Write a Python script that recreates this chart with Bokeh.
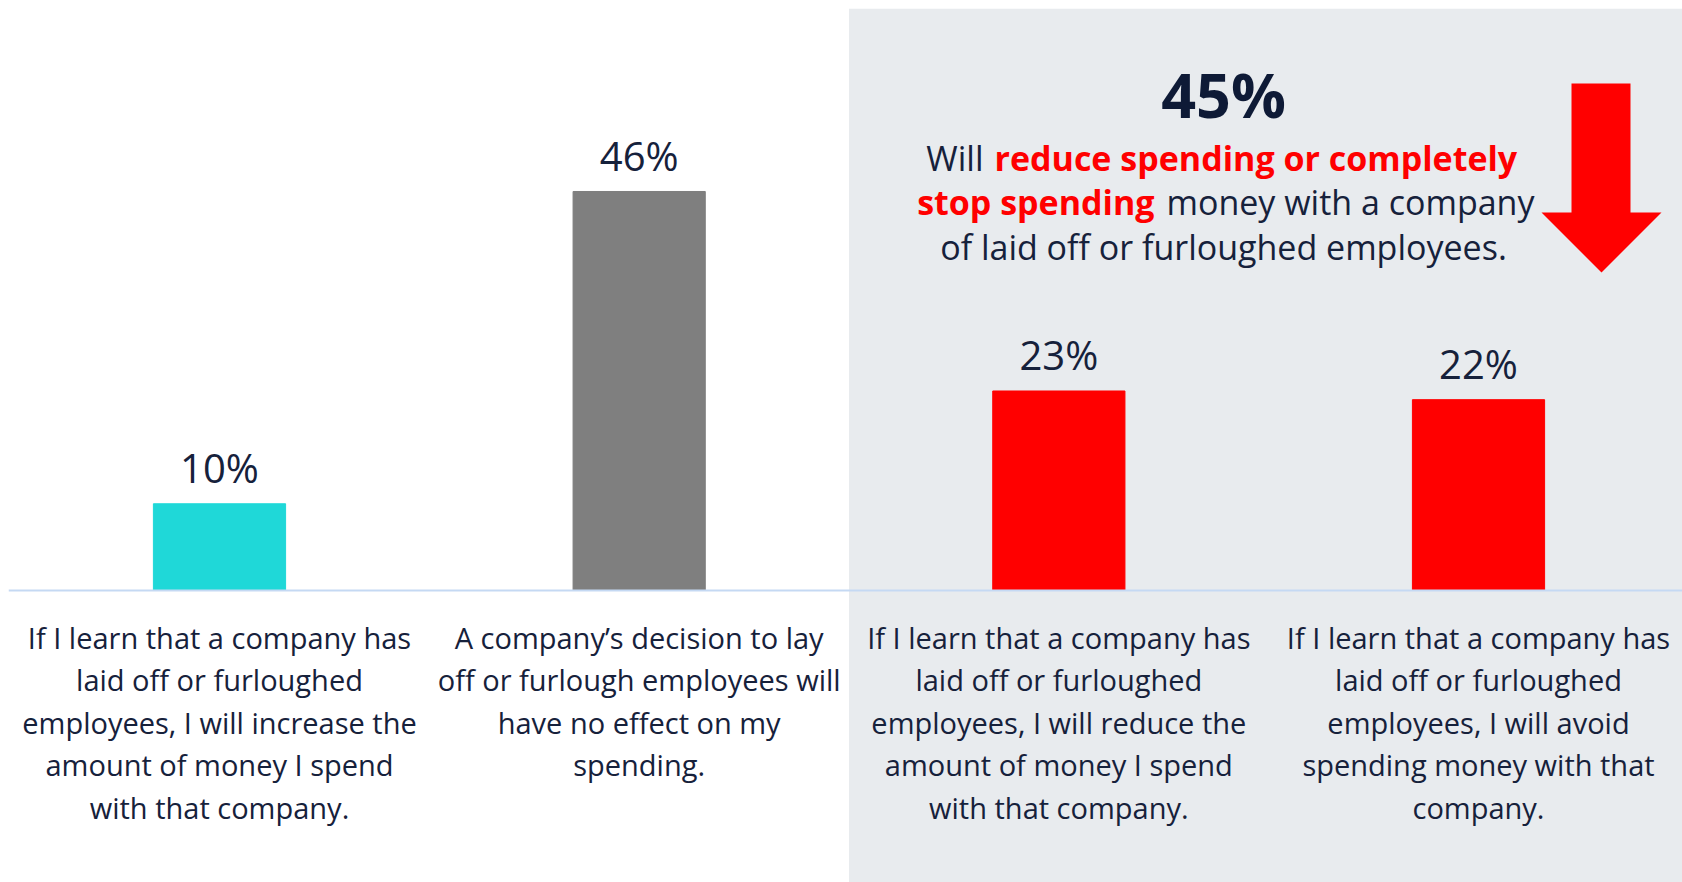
from bokeh.plotting import figure
from bokeh.models import ColumnDataSource, BoxAnnotation, Span, Range1d
from bokeh.core.properties import value
from bokeh.embed import file_html
from bokeh.resources import INLINE

# ---- data ----
categories = [
    "If I learn that a company has\nlaid off or furloughed\nemployees, I will increase the\namount of money I spend\nwith that company.",
    "A company\u2019s decision to lay\noff or furlough employees will\nhave no effect on my\nspending.",
    "If I learn that a company has\nlaid off or furloughed\nemployees, I will reduce the\namount of money I spend\nwith that company.",
    "If I learn that a company has\nlaid off or furloughed\nemployees, I will avoid\nspending money with that\ncompany.",
]
values = [10, 46, 23, 22]
value_labels = ["10%", "46%", "23%", "22%"]
bar_colors = ["#1fd8d8", "#7f7f7f", "#ff0000", "#ff0000"]
highlight_total = "45%"

# ---- layout constants ----
PAD = 8                   # white border left/top
W, H = 1674, 874          # frame size
SPACING = 419.67          # px per category
PX_PER_PCT = 8.674        # px per percent
BASE_Y = 582              # frame y of baseline
X0 = -211 / SPACING
X1 = X0 + W / SPACING
Y_TOP = BASE_Y / PX_PER_PCT
Y_BOT = -(H - BASE_Y) / PX_PER_PCT

NAVY = "#16213b"
RED = "#ff0000"
FONT = "Open Sans"


def dx(px_full):
    return X0 + (px_full - PAD) / SPACING


def dy(py_full):
    return Y_TOP - (py_full - PAD) / PX_PER_PCT


xs = list(range(len(values)))
src = ColumnDataSource(dict(x=xs, top=values, color=bar_colors,
                            label=value_labels, cat=categories))

p = figure(width=W + PAD, height=H + PAD, output_backend="svg",
           toolbar_location=None,
           x_range=Range1d(X0, X1), y_range=Range1d(Y_BOT, Y_TOP),
           x_axis_type=None, y_axis_type=None,
           min_border_left=PAD, min_border_top=PAD,
           min_border_right=0, min_border_bottom=0,
           background_fill_color="white", border_fill_color="white")
p.outline_line_color = None

# shaded highlight panel behind last two categories
p.add_layout(BoxAnnotation(left=1.5, fill_color="#e8ebee", fill_alpha=1.0,
                           line_color=None, level="underlay"))

p.vbar(x="x", top="top", bottom=0, width=0.315, color="color", source=src)

p.add_layout(Span(location=0, dimension="width", line_color="#c5d9f3",
                  line_width=2, level="overlay"))

# value labels
p.text(x="x", y="top", text="label", source=src, text_align="center",
       text_baseline="middle", y_offset=-36, text_font=value(FONT),
       text_font_size="40px", text_color=NAVY)

# category labels
p.text(x="x", y=0, text="cat", source=src, text_align="center",
       text_baseline="top", y_offset=27, text_font=value(FONT),
       text_font_size="29px", text_color=NAVY, text_line_height=1.09)

# highlight annotation
p.text(x=[dx(1223)], y=[dy(94)], text=[highlight_total], text_align="center",
       text_baseline="middle", text_font=value(FONT), text_font_size="61px",
       text_font_style="bold", text_color="#0e1a36")

SUB = "34px"
p.text(x=[dx(983)], y=[dy(157)], text=["Will"], text_align="right",
       text_baseline="middle", text_font=value(FONT), text_font_size=SUB,
       text_color=NAVY)
p.text(x=[dx(994)], y=[dy(157)], text=["reduce spending or completely"],
       text_align="left", text_baseline="middle", text_font=value(FONT),
       text_font_size=SUB, text_font_style="bold", text_color=RED)
p.text(x=[dx(1154)], y=[dy(201)], text=["stop spending"], text_align="right",
       text_baseline="middle", text_font=value(FONT), text_font_size=SUB,
       text_font_style="bold", text_color=RED)
p.text(x=[dx(1166)], y=[dy(201)], text=["money with a company"],
       text_align="left", text_baseline="middle", text_font=value(FONT),
       text_font_size=SUB, text_color=NAVY)
p.text(x=[dx(1223)], y=[dy(246)], text=["of laid off or furloughed employees."],
       text_align="center", text_baseline="middle", text_font=value(FONT),
       text_font_size=SUB, text_color=NAVY)

# down arrow decoration
arrow_x = [dx(v) for v in (1571, 1630, 1630, 1661, 1601, 1541, 1571)]
arrow_y = [dy(v) for v in (83, 83, 212, 212, 272, 212, 212)]
p.patch(arrow_x, arrow_y, fill_color=RED, line_color=None)

open("out.html", "w").write(file_html(p, INLINE))
